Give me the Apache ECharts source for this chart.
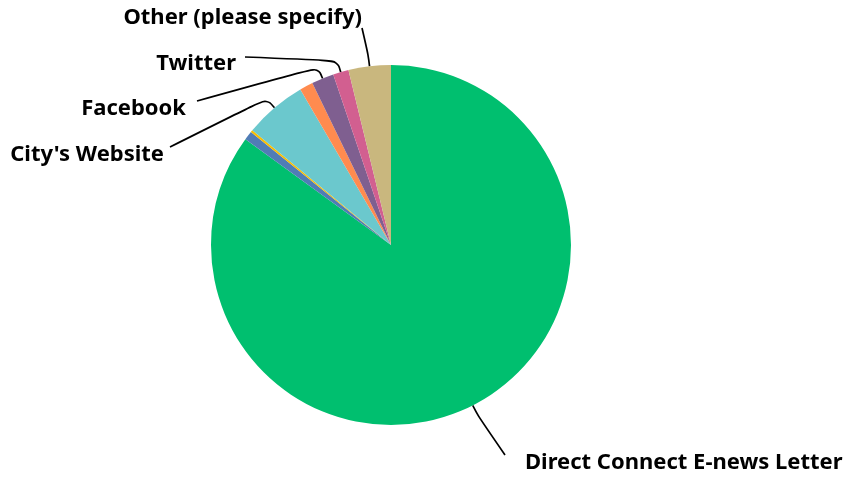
<!DOCTYPE html>
<html>
<head>
<meta charset="utf-8">
<script src="https://cdn.jsdelivr.net/npm/echarts@6/dist/echarts.min.js"></script>
<style>
html,body{margin:0;padding:0;background:#fff;}
#chart{width:846px;height:478px;}
</style>
</head>
<body>
<div id="chart"></div>
<script>
// Data (percent of responses), in clockwise order from 12 o'clock
var categories = ["Direct Connect E-news Letter", "Nextdoor", "Instagram", "City's Website", "Newspaper", "Facebook", "Twitter", "Other (please specify)"];
var values = [85.0, 0.8, 0.2, 5.6, 1.2, 2.0, 1.4, 3.8];
var showLabel = [true, false, false, true, false, true, true, true];
var colors = ["#00BF6F", "#507CB6", "#F9BE00", "#6BC8CD", "#FF8B4F", "#7F5F90", "#D25F90", "#C9B77E"];

// Label anchor placement (layout only)
var labelPlace = {
  "Direct Connect E-news Letter": {x: 525, y: 463, align: "left", endDx: -20, endDy: -8},
  "City's Website": {x: 164, y: 155, align: "right", endDx: 6, endDy: -8},
  "Facebook": {x: 186, y: 109, align: "right", endDx: 11, endDy: -8},
  "Twitter": {x: 236, y: 64, align: "right", endDx: 9, endDy: -7},
  "Other (please specify)": {x: 362, y: 18, align: "right", endDx: 0, endDy: 10}
};

var chart = echarts.init(document.getElementById('chart'), null, {renderer: 'canvas'});
var data = categories.map(function (c, i) {
  return {
    name: c,
    value: values[i],
    itemStyle: {color: colors[i]},
    label: {show: showLabel[i]},
    labelLine: {show: showLabel[i]}
  };
});

chart.setOption({
  animation: false,
  series: [{
    type: 'pie',
    center: [391, 245],
    radius: [0, 180],
    startAngle: 90,
    clockwise: true,
    avoidLabelOverlap: false,
    minShowLabelAngle: 0,
    data: data,
    itemStyle: {borderWidth: 0},
    emphasis: {disabled: true},
    label: {
      show: true,
      position: 'outside',
      formatter: '{b}',
      color: '#000',
      fontFamily: 'Noto Sans',
      fontWeight: 'bold',
      fontSize: 22
    },
    labelLine: {
      show: true,
      length: 12,
      length2: 20,
      smooth: 0.4,
      lineStyle: {color: '#000', width: 1.7}
    },
    labelLayout: function (params) {
      var name = categories[params.dataIndex];
      var p = labelPlace[name];
      if (!p || !params.labelLinePoints) return {};
      var pts = params.labelLinePoints;
      var end = [p.x + p.endDx, p.y + p.endDy];
      return {
        x: p.x,
        y: p.y,
        align: p.align,
        verticalAlign: 'middle',
        labelLinePoints: [pts[0], pts[1], end]
      };
    }
  }]
});
</script>
</body>
</html>
